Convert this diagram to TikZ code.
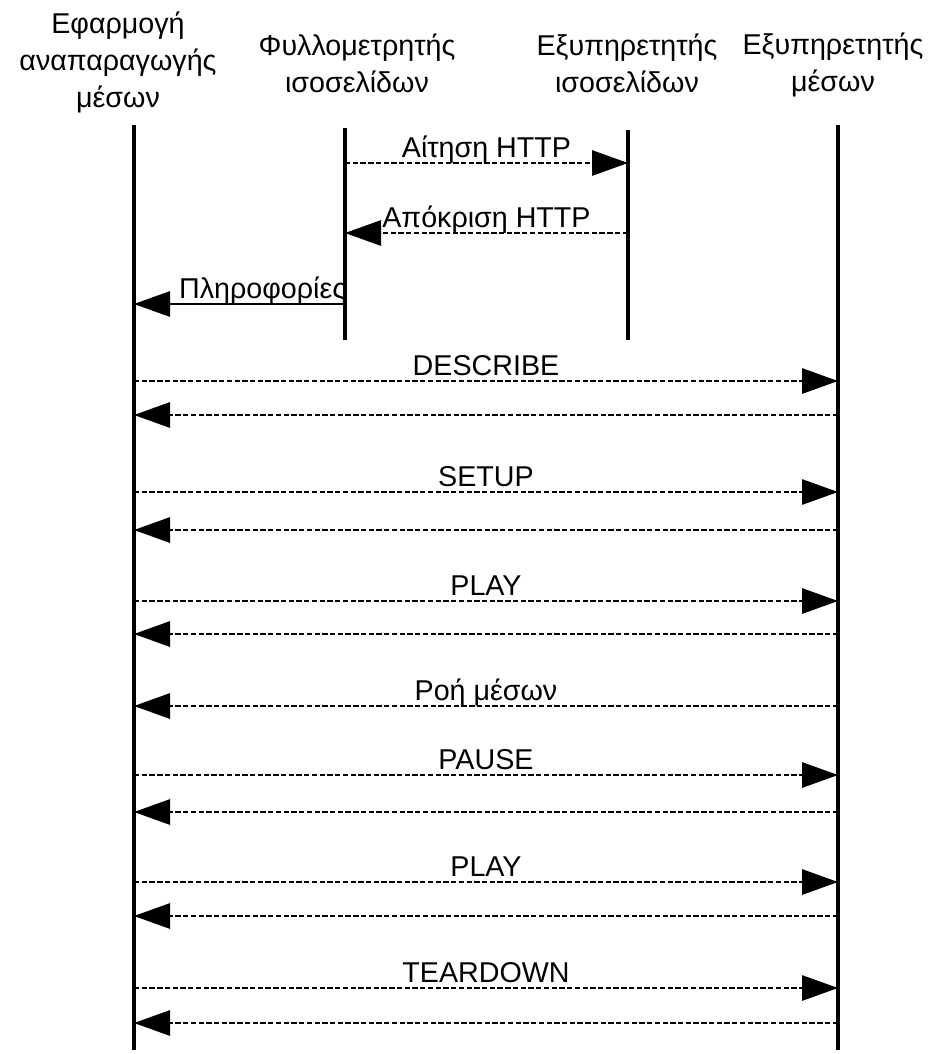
\documentclass[tikz,border=0pt]{standalone}
\usepackage{fontspec}
\setmainfont{Liberation Sans}
\usetikzlibrary{arrows.meta}

\tikzset{
  lifeline/.style={line width=2.8pt},
  head/.style={anchor=base,align=center,inner sep=0pt,font=\fontsize{21.5}{27.5}\selectfont},
  msg/.style={line width=1.4pt,dash pattern=on 4pt off 1.8pt,-{Triangle[length=27pt,width=19pt]}},
  info/.style={line width=1.4pt,-{Triangle[length=27pt,width=19pt]}},
  lbl/.style={anchor=base,yshift=4.5pt,inner sep=0pt,font=\fontsize{21.5}{26}\selectfont}
}

\begin{document}
\begin{tikzpicture}[x=0.75pt,y=-0.75pt]
\path[use as bounding box] (0,0) rectangle (940,1054);
% headers
\node[head] (apphead) at (118,107) {Εφαρμογή\\αναπαραγωγής\\μέσων};
\node[head] (browserhead) at (357,92) {Φυλλομετρητής\\ισοσελίδων};
\node[head] (webhead) at (627,92) {Εξυπηρετητής\\ισοσελίδων};
\node[head] (mediahead) at (833,91) {Εξυπηρετητής\\μέσων};
% lifelines
\coordinate (apptop) at (134,125);
\coordinate (appbot) at (134,1050);
\coordinate (browsertop) at (345,128);
\coordinate (browserbot) at (345,340);
\coordinate (webtop) at (628,130);
\coordinate (webbot) at (628,340);
\coordinate (mediatop) at (838,125);
\coordinate (mediabot) at (838,1050);
\draw[lifeline] (apptop) -- (appbot);
\draw[lifeline] (browsertop) -- (browserbot);
\draw[lifeline] (webtop) -- (webbot);
\draw[lifeline] (mediatop) -- (mediabot);
% message end points
\coordinate (b1) at (345,163);  \coordinate (w1) at (628,163);
\coordinate (b2) at (345,233);  \coordinate (w2) at (628,233);
\coordinate (a3) at (134,304);  \coordinate (b3) at (345,304);
\coordinate (a4) at (134,381);  \coordinate (m4) at (838,381);
\coordinate (a5) at (134,415);  \coordinate (m5) at (838,415);
\coordinate (a6) at (134,492);  \coordinate (m6) at (838,492);
\coordinate (a7) at (134,530);  \coordinate (m7) at (838,530);
\coordinate (a8) at (134,601);  \coordinate (m8) at (838,601);
\coordinate (a9) at (134,634);  \coordinate (m9) at (838,634);
\coordinate (a10) at (134,706); \coordinate (m10) at (838,706);
\coordinate (a11) at (134,775); \coordinate (m11) at (838,775);
\coordinate (a12) at (134,812); \coordinate (m12) at (838,812);
\coordinate (a13) at (134,882); \coordinate (m13) at (838,882);
\coordinate (a14) at (134,916); \coordinate (m14) at (838,916);
\coordinate (a15) at (134,988); \coordinate (m15) at (838,988);
\coordinate (a16) at (134,1023); \coordinate (m16) at (838,1023);
% messages
\draw[msg] (b1) -- node[lbl] (httpreq) {Αίτηση HTTP} (w1);
\draw[msg] (w2) -- node[lbl] (httpresp) {Απόκριση HTTP} (b2);
\draw[info] (b3) -- node[lbl,pos=0.39] (infolbl) {Πληροφορίες} (a3);
\draw[msg] (a4) -- node[lbl] (describe) {DESCRIBE} (m4);
\draw[msg] (m5) -- (a5);
\draw[msg] (a6) -- node[lbl] (setup) {SETUP} (m6);
\draw[msg] (m7) -- (a7);
\draw[msg] (a8) -- node[lbl] (playa) {PLAY} (m8);
\draw[msg] (m9) -- (a9);
\draw[msg] (m10) -- node[lbl] (stream) {Ροή μέσων} (a10);
\draw[msg] (a11) -- node[lbl] (pause) {PAUSE} (m11);
\draw[msg] (m12) -- (a12);
\draw[msg] (a13) -- node[lbl] (playb) {PLAY} (m13);
\draw[msg] (m14) -- (a14);
\draw[msg] (a15) -- node[lbl] (teardown) {TEARDOWN} (m15);
\draw[msg] (m16) -- (a16);
\end{tikzpicture}
\end{document}
